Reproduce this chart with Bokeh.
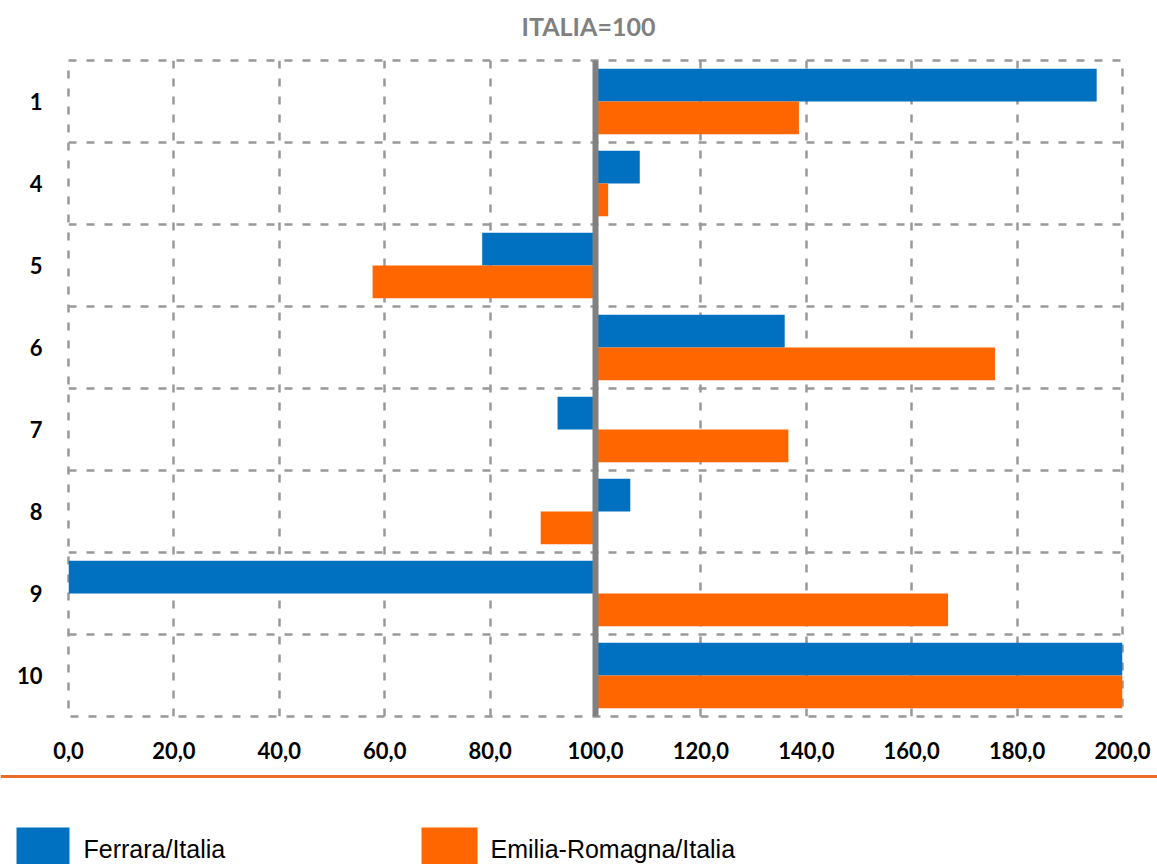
from bokeh.plotting import figure
from bokeh.models import ColumnDataSource, FixedTicker, Span, Range1d
from bokeh.layouts import column
from bokeh.embed import file_html
from bokeh.resources import INLINE
from bokeh.core.properties import value

categories = ["1", "4", "5", "6", "7", "8", "9", "10"]
ferrara = [195.1, 108.4, 78.5, 135.9, 92.8, 106.6, 0.0, 200.0]
emilia = [138.6, 102.4, 57.7, 175.8, 136.6, 89.6, 166.9, 200.0]
x_ticks = [0, 20, 40, 60, 80, 100, 120, 140, 160, 180, 200]
x_tick_labels = ["0,0", "20,0", "40,0", "60,0", "80,0", "100,0", "120,0", "140,0", "160,0", "180,0", "200,0"]
series_names = ["Ferrara/Italia", "Emilia-Romagna/Italia"]
title_text = "ITALIA=100"
base_value = 100

BLUE = "#0070C0"
ORANGE = "#FF6600"
GRID = "#999999"
n = len(categories)
centers = [n - i - 0.5 for i in range(n)]

src = ColumnDataSource(dict(
    y_f=[c + 0.2 for c in centers],
    y_e=[c - 0.2 for c in centers],
    ferrara=ferrara,
    emilia=emilia,
    base=[base_value] * n,
))

# title strip
t = figure(width=1157, height=56, x_range=Range1d(0, 1157), y_range=Range1d(56, 0),
           output_backend="svg", toolbar_location=None, x_axis_type=None, y_axis_type=None,
           min_border=0, min_border_left=0, min_border_right=0, min_border_top=0, min_border_bottom=0)
t.frame_align = False
t.grid.visible = False
t.outline_line_color = None
t.text(x=[588], y=[25], text=[title_text], text_font=value("Lato"), text_font_style="bold",
       text_font_size="25px", text_color="#808080", text_align="center", text_baseline="middle")

p = figure(width=1157, height=712, x_range=Range1d(0, 200), y_range=Range1d(0, n),
           output_backend="svg", toolbar_location=None,
           min_border_left=68, min_border_right=35, min_border_top=4, min_border_bottom=52)
p.frame_align = False

p.hbar(y="y_f", left="base", right="ferrara", height=0.4, source=src,
       fill_color=BLUE, line_color=None)
p.hbar(y="y_e", left="base", right="emilia", height=0.4, source=src,
       fill_color=ORANGE, line_color=None)

p.add_layout(Span(location=base_value, dimension="height", line_color="#808080", line_width=6))

p.xaxis.ticker = FixedTicker(ticks=x_ticks)
p.xaxis.major_label_overrides = {tk: l for tk, l in zip(x_ticks, x_tick_labels)}
p.yaxis.ticker = FixedTicker(ticks=centers)
p.yaxis.major_label_overrides = {c: cat for c, cat in zip(centers, categories)}
for ax in (p.xaxis, p.yaxis):
    ax.axis_line_color = None
    ax.major_tick_line_color = None
    ax.minor_tick_line_color = None
    ax.major_label_text_font = "Lato"
    ax.major_label_text_font_style = "bold"
    ax.major_label_text_font_size = "22px"
    ax.major_label_text_color = "#000000"
p.xaxis.major_label_standoff = 19
p.yaxis.major_label_standoff = 20

p.xgrid.ticker = FixedTicker(ticks=x_ticks)
p.ygrid.ticker = FixedTicker(ticks=list(range(n + 1)))
for g in (p.xgrid, p.ygrid):
    g.grid_line_color = GRID
    g.grid_line_width = 2.5
    g.grid_line_dash = "8 10"
p.outline_line_color = GRID
p.outline_line_width = 2.5
p.outline_line_dash = "8 10"

# legend strip below the chart
q = figure(width=1157, height=96, x_range=Range1d(0, 1157), y_range=Range1d(96, 0),
           output_backend="svg", toolbar_location=None, x_axis_type=None, y_axis_type=None,
           min_border=0, min_border_left=0, min_border_right=0, min_border_top=0, min_border_bottom=0)
q.frame_align = False
q.grid.visible = False
q.outline_line_color = None
q.segment(x0=[0], y0=[8], x1=[1157], y1=[8], line_color="#EC6B28", line_width=3)
q.quad(left=[16, 421], right=[69, 477], top=[59, 59], bottom=[100, 100],
       fill_color=[BLUE, ORANGE], line_color=None)
q.text(x=[83, 490], y=[80, 80], text=series_names, text_font=value("Liberation Sans"),
       text_font_size="25px", text_color="#000000", text_baseline="middle")

layout = column(t, p, q, spacing=0)
open("out.html", "w").write(file_html(layout, INLINE))
